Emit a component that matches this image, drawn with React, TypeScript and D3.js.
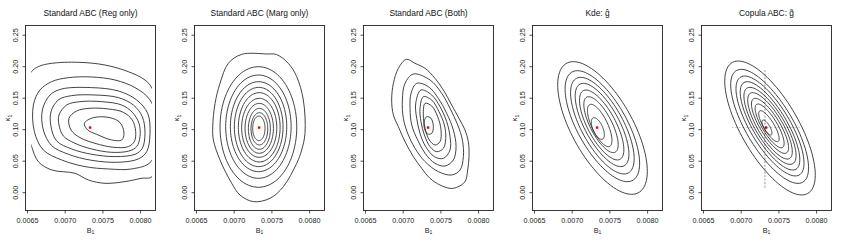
import * as React from "react";
import * as d3 from "d3";

// panel titles and axis ticks
const titles = [
  "Standard ABC (Reg only)",
  "Standard ABC (Marg only)",
  "Standard ABC (Both)",
  "Kde: \u011D",
  "Copula ABC: g\u0303",
];
const xTicks = [0.0065, 0.007, 0.0075, 0.008];
const yTicks = [0, 0.05, 0.1, 0.15, 0.2, 0.25];
const xLim = [0.0064735, 0.0081976];
const yLim = [-0.02825, 0.2654];
const gridRange = [0.00655, 0.00815];
const truth = [0.00733, 0.1034];

// contour rings: [B1, kappa1] points
const regRings = [
  [[0.006547, 0.1911], [0.006644, 0.2001], [0.006821, 0.2054], [0.007174, 0.207], [0.007528, 0.2027], [0.007837, 0.1921], [0.008058, 0.1789], [0.008151, 0.1657], [0.008279, 0.0969], [0.008151, 0.0255], [0.008014, 0.0229], [0.007793, 0.0176], [0.007528, 0.0149], [0.007307, 0.0202], [0.00713, 0.0308], [0.006821, 0.0361], [0.006644, 0.0493], [0.006547, 0.0758], [0.006401, 0.134]],
  [[0.006578, 0.1392], [0.006666, 0.1631], [0.006821, 0.1763], [0.007042, 0.1826], [0.007351, 0.1837], [0.00766, 0.1789], [0.007926, 0.1668], [0.008125, 0.1472], [0.008235, 0.1022], [0.008138, 0.0493], [0.007881, 0.0377], [0.007572, 0.0377], [0.007263, 0.0414], [0.006953, 0.052], [0.00671, 0.0678], [0.006591, 0.0969]],
  [[0.006697, 0.1313], [0.006799, 0.1551], [0.006953, 0.1646], [0.007351, 0.1668], [0.007705, 0.1615], [0.007948, 0.1472], [0.008094, 0.126], [0.008125, 0.0943], [0.008081, 0.0652], [0.00797, 0.0536], [0.007705, 0.0483], [0.007351, 0.0514], [0.007042, 0.061], [0.006821, 0.0747], [0.00671, 0.0996]],
  [[0.006812, 0.1287], [0.006909, 0.1472], [0.007086, 0.1541], [0.007395, 0.1551], [0.007705, 0.1509], [0.007904, 0.1392], [0.008023, 0.1207], [0.008058, 0.0943], [0.008023, 0.0705], [0.007926, 0.061], [0.00766, 0.0573], [0.007351, 0.061], [0.007086, 0.0694], [0.006887, 0.0821], [0.006812, 0.1049]],
  [[0.006918, 0.1234], [0.00702, 0.1392], [0.007196, 0.1445], [0.007484, 0.1445], [0.007749, 0.1392], [0.00789, 0.1276], [0.007979, 0.1101], [0.007992, 0.089], [0.007948, 0.0731], [0.007846, 0.0662], [0.007616, 0.0641], [0.007351, 0.0694], [0.00713, 0.0784], [0.006975, 0.09], [0.006918, 0.1075]],
  [[0.00705, 0.1181], [0.007152, 0.1297], [0.007329, 0.134], [0.007572, 0.1329], [0.007771, 0.1276], [0.00789, 0.1154], [0.007935, 0.0969], [0.007917, 0.0811], [0.007837, 0.0731], [0.007638, 0.0721], [0.007395, 0.0784], [0.007196, 0.0874], [0.007077, 0.0996]],
  [[0.007254, 0.1101], [0.007373, 0.1191], [0.007594, 0.1191], [0.007727, 0.1112], [0.00778, 0.0943], [0.007749, 0.0837], [0.007616, 0.0837], [0.007417, 0.0927], [0.007298, 0.0996]],
];

const margOuter = [
  [[0.007099, 0.2196], [0.007431, 0.2202], [0.007564, 0.2191], [0.007718, 0.2053], [0.007829, 0.1842], [0.007917, 0.1471], [0.007939, 0.0942], [0.007895, 0.0678], [0.007829, 0.0466], [0.007652, 0.0096], [0.007475, -0.0089], [0.007254, -0.0142], [0.007077, -0.0037], [0.006967, 0.0149], [0.006812, 0.0519], [0.006724, 0.0836], [0.006715, 0.1048], [0.006746, 0.1418], [0.006812, 0.1736], [0.006922, 0.2053]],
];

const bothRings = [
  [[0.007042, 0.2117], [0.007157, 0.2053], [0.00729, 0.1974], [0.007422, 0.1815], [0.007533, 0.163], [0.007643, 0.1392], [0.00774, 0.118], [0.00782, 0.0995], [0.007864, 0.081], [0.007873, 0.0572], [0.007855, 0.036], [0.00782, 0.0175], [0.00771, 0.0085], [0.007621, 0.0069], [0.007488, 0.0122], [0.007356, 0.0228], [0.007245, 0.0387], [0.007135, 0.0572], [0.007024, 0.081], [0.006936, 0.1048], [0.00687, 0.1233], [0.006847, 0.1471], [0.00687, 0.1736], [0.006936, 0.1974]],
  [[0.007135, 0.1884], [0.007356, 0.1789], [0.007511, 0.1577], [0.007621, 0.1339], [0.007723, 0.1075], [0.007785, 0.0836], [0.007798, 0.0572], [0.007754, 0.036], [0.007643, 0.0281], [0.007466, 0.0334], [0.00729, 0.0493], [0.007157, 0.0704], [0.007068, 0.0916], [0.007002, 0.118], [0.006989, 0.1471], [0.007024, 0.1736]],
  [[0.007179, 0.1736], [0.007334, 0.1683], [0.007466, 0.1498], [0.007577, 0.126], [0.007665, 0.0995], [0.007701, 0.0731], [0.007665, 0.0519], [0.007555, 0.0424], [0.007422, 0.0466], [0.00729, 0.0625], [0.007192, 0.0836], [0.007113, 0.1075], [0.007091, 0.1339], [0.007104, 0.1577]],
  [[0.007236, 0.163], [0.007378, 0.1551], [0.007488, 0.1366], [0.007577, 0.1127], [0.007621, 0.0889], [0.007621, 0.0678], [0.007533, 0.0545], [0.007413, 0.0572], [0.007298, 0.0731], [0.007223, 0.0942], [0.007179, 0.118], [0.007166, 0.1418]],
  [[0.007267, 0.1524], [0.007378, 0.1471], [0.007475, 0.1286], [0.007546, 0.1075], [0.007564, 0.0863], [0.007533, 0.0704], [0.007444, 0.0651], [0.007356, 0.0731], [0.007281, 0.0916], [0.007236, 0.1127], [0.007223, 0.1339]],
  [[0.00729, 0.1418], [0.007378, 0.1376], [0.007457, 0.1207], [0.007502, 0.0995], [0.007488, 0.081], [0.007422, 0.0757], [0.007347, 0.0836], [0.00729, 0.1022], [0.007267, 0.1233]],
  [[0.007312, 0.1207], [0.007369, 0.118], [0.0074, 0.1048], [0.007378, 0.0942], [0.007325, 0.0932], [0.007281, 0.1022], [0.007281, 0.1143]],
];

// elliptic rings: [centre B1, centre kappa1, top B1, top kappa1, half width in B1 at centre height]
const margEllipses = [
  [0.007321, 0.1043, 0.007321, 0.2, 0.000509],
  [0.007321, 0.1048, 0.007321, 0.1868, 0.000434],
  [0.007323, 0.1048, 0.007323, 0.1762, 0.000374],
  [0.007325, 0.1043, 0.007325, 0.1672, 0.000323],
  [0.007332, 0.1038, 0.007332, 0.1588, 0.000277],
  [0.007332, 0.103, 0.007332, 0.1498, 0.000233],
  [0.007332, 0.1022, 0.007332, 0.1418, 0.000188],
  [0.007334, 0.1014, 0.007334, 0.1339, 0.000146],
  [0.007334, 0.1014, 0.007334, 0.127, 0.000111],
  [0.007327, 0.1022, 0.007327, 0.1217, 0.000082],
];

const kdeEllipses = [
  [0.007402, 0.1027, 0.007015, 0.208, 0.000451],
  [0.0074, 0.1056, 0.007069, 0.1937, 0.000367],
  [0.0074, 0.1064, 0.007113, 0.1831, 0.000309],
  [0.007396, 0.1075, 0.007148, 0.1736, 0.000256],
  [0.007391, 0.1075, 0.007183, 0.163, 0.000208],
  [0.007382, 0.108, 0.007219, 0.1524, 0.000159],
  [0.007365, 0.1067, 0.00725, 0.1403, 0.000115],
  [0.00734, 0.1019, 0.00729, 0.1191, 0.0000707],
];

const copulaEllipses = [
  [0.007382, 0.1027, 0.006962, 0.209, 0.000429],
  [0.007377, 0.1053, 0.007001, 0.1958, 0.000354],
  [0.007382, 0.1059, 0.007046, 0.1852, 0.000301],
  [0.007382, 0.1061, 0.007081, 0.1762, 0.000256],
  [0.007382, 0.1061, 0.007116, 0.1672, 0.000221],
  [0.007382, 0.1061, 0.007152, 0.1588, 0.000186],
  [0.007382, 0.1061, 0.007187, 0.1498, 0.00015],
  [0.007377, 0.1061, 0.007223, 0.1408, 0.000115],
  [0.007368, 0.1056, 0.007258, 0.1302, 0.0000796],
  [0.007342, 0.1035, 0.007293, 0.1154, 0.0000442],
];

// copula panel marginal guides
const guideB = 0.007315;
const guideBRange = [0.008, 0.195];
const guideK = 0.1034;
const guideKRange = [0.006874, 0.00778];

const panels = [
  { rings: regRings, ellipses: [] as number[][] },
  { rings: margOuter, ellipses: margEllipses },
  { rings: bothRings, ellipses: [] as number[][] },
  { rings: [] as number[][][], ellipses: kdeEllipses },
  { rings: [] as number[][][], ellipses: copulaEllipses },
];

const font = "'Liberation Sans', Arial, Helvetica, sans-serif";
const panelW = 169;
const L = 25.5, R = 155.5, T = 25.5, B = 210.5;

export default function App() {
  const x = d3.scaleLinear().domain(xLim).range([L, R]);
  const y = d3.scaleLinear().domain(yLim).range([B, T]);
  const ring = d3
    .line<number[]>()
    .x((d) => x(d[0]))
    .y((d) => y(d[1]))
    .curve(d3.curveCatmullRomClosed.alpha(0.5));

  const ellipsePath = (e: number[]) => {
    const cx = x(e[0]);
    const cy = y(e[1]);
    const ux = x(e[2]) - cx;
    const uy = y(e[3]) - cy;
    const vx = x(e[0] + e[4]) - cx;
    const pts = d3.range(96).map((i) => {
      const t = (i / 96) * 2 * Math.PI;
      return [cx + ux * Math.cos(t) + vx * Math.sin(t), cy + uy * Math.cos(t)] as [number, number];
    });
    return d3.line().curve(d3.curveLinearClosed)(pts) as string;
  };

  return (
    <svg width={845} height={242} style={{ position: "absolute", left: 0, top: 0, background: "#fff" }} fontFamily={font}>
      <defs>
        <clipPath id="grid">
          <rect x={x(gridRange[0])} y={T} width={x(gridRange[1]) - x(gridRange[0])} height={B - T} />
        </clipPath>
      </defs>
      {panels.map((p, i) => (
        <g key={i} transform={`translate(${i * panelW},0)`}>
          <text x={(L + R) / 2} y={16} fontSize={8.4} textAnchor="middle" fill="#111">
            {titles[i]}
          </text>
          {i === 4 && (
            <g>
              <line x1={x(guideB)} x2={x(guideB)} y1={y(guideBRange[0])} y2={y(guideBRange[1])} stroke="#777" strokeWidth={0.8} strokeDasharray="2,1.5" />
              <line x1={x(guideKRange[0])} x2={x(guideKRange[1])} y1={y(guideK)} y2={y(guideK)} stroke="#bbb" strokeWidth={0.8} strokeDasharray="2,1.5" />
            </g>
          )}
          <g clipPath="url(#grid)" fill="none" stroke="#222" strokeWidth={0.85}>
            {p.rings.map((r, j) => (
              <path key={"r" + j} d={ring(r as number[][]) as string} />
            ))}
            {p.ellipses.map((e, j) => (
              <path key={"e" + j} d={ellipsePath(e)} />
            ))}
          </g>
          <rect x={x(truth[0]) - 1.2} y={y(truth[1]) - 1.2} width={2.4} height={2.4} fill={i === 4 ? "#b00" : "#e00"} />
          <rect x={L} y={T} width={R - L} height={B - T} fill="none" stroke="#222" strokeWidth={0.9} />
          {xTicks.map((t) => (
            <g key={t}>
              <line x1={x(t)} x2={x(t)} y1={B} y2={B + 3} stroke="#222" strokeWidth={0.8} />
              <text x={x(t)} y={222.5} fontSize={7.2} textAnchor="middle" fill="#222">
                {t.toFixed(4)}
              </text>
            </g>
          ))}
          {yTicks.map((t) => (
            <g key={t}>
              <line x1={L - 3} x2={L} y1={y(t)} y2={y(t)} stroke="#222" strokeWidth={0.8} />
              <text transform={`translate(17.5,${y(t)}) rotate(-90)`} fontSize={7.2} textAnchor="middle" fill="#222">
                {t.toFixed(2)}
              </text>
            </g>
          ))}
          <text x={(L + R) / 2} y={232.5} fontSize={7.2} textAnchor="middle" fill="#222">
            B<tspan fontSize={5} dy={1.5}>1</tspan>
          </text>
          <text transform={`translate(10,${(T + B) / 2}) rotate(-90)`} fontSize={7.2} textAnchor="middle" fill="#222">
            {"\u03BA"}<tspan fontSize={5} dy={1.5}>1</tspan>
          </text>
        </g>
      ))}
    </svg>
  );
}
